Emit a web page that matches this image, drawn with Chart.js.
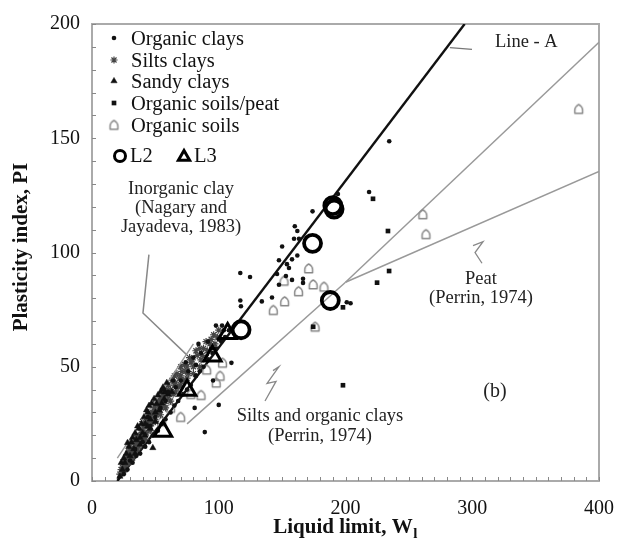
<!DOCTYPE html>
<html><head><meta charset="utf-8">
<script src="https://cdn.jsdelivr.net/npm/chart.js@4/dist/chart.umd.min.js"></script>
<style>html,body{margin:0;padding:0;background:#fff}#wrap{width:630px;height:550px}</style>
</head><body><div id="wrap"><canvas id="c" width="630" height="550"></canvas></div>
<script>
// ---- data (Liquid limit, Plasticity index) ----
const organicClays = [[25,3],[28,5],[32,8],[35,11],[38,12],[42,15],[45,17],[48,20],[52,22],[55,25],[58,27],[62,30],[65,33],[68,35],[72,38],[75,40],[78,42],[82,46],[85,48],[88,50],[92,53],[95,56],[98,58],[102,61],[105,63],[108,66],[44,28],[56,40],[64,44],[74,52],[84,60],[91.5,61],[97.8,68],[102.6,68],[82,50.8],[81,32],[100,33.3],[89,21.4],[110,51.7],[95.5,44],
  [30,9],[34,14],[40,17],[46,24],[50,28],[54,32],[58,35],[60,39],[66,41],[70,44],[76,48],[80,54],[86,56],[94,58],[100,62],[104,66],
  [117,91],[124.7,89.3],[117,79],[117.5,76.5],[134,78.6],[142,80.3],[146,90.6],[147.5,85.9],[147.5,96.6],[150,102.6],[153,89.7],[153.8,94.9],[155.4,93.2],[157.8,97],[157.8,88],[159.4,106],[160,111.5],[162,109.4],[162,98.7],[163.3,106],[166.5,88.5],[166.5,86.7],[174,118],[194,125.6],[218.6,126.5],[234.5,148.7],[201,78.2],[204,77.8]];
const siltsClays = [[22,3],[24,6],[25,4],[26,9],[27,7],[28,11],[29,8],[30,12],[31,10],[32,14],[33,12],[34,16],[35,13],[36,18],[37,15],[38,20],[39,17],[40,22],[41,19],[42,24],[43,21],[44,26],[45,23],[46,28],[47,25],[48,30],[49,27],[50,31],[51,29],[52,33],[53,30],[54,35],[55,32],[56,37],[57,34],[58,38],[60,36],[62,40],[64,38],[66,43],[68,41],[70,46],[72,44],[74,48],[76,47],[78,52],[80,50],[83,55],[86,53],[88,58],[91,57],[94,62],[97,60],[100,66],[45,30],[50,34],[55,38],[35,20],[40,26],[30,15],[60,42],[65,46],[70,50],
  [23,5],[25,8],[27,10],[29,13],[31,13],[33,17],[35,16],[37,19],[39,22],[41,24],[43,27],[45,27],[47,29],[49,32],[51,35],[53,36],[55,36],[57,39],[59,40],[61,38],[63,44],[65,42],[67,47],[69,45],[71,48],[73,51],[75,50],[77,54],[79,53],[82,57],[85,58],[87,55],[90,61],[93,60],[96,64],[99,63],[26,5],[28,8],[32,10],[36,14],[42,18],[46,22],[50,26],[54,29],[58,32],[62,35],[66,39],[70,42],[75,45],[80,47],[85,50],[90,54]];
const sandyClays = [[22,2],[24,5],[26,8],[28,16.7],[30,11],[33,14],[35,18],[38,19],[40,21],[42,25],[44,24],[46,27],[48,14.5],[50,30],[51,33.8],[52,37.6],[53,31],[55,34],[57,36],[44,30],[37,23],[31,17],[27,12],[60,38],[63,39],[57.6,38.9],
  [25,10],[29,15],[32,19],[34,21],[36,24],[39,25],[41,28],[43,31],[45,33],[47,34],[49,36],[54,39],[56,41],[59,43],[34,12],[38,16],[42,20],[46,23],[50,26],[23,8]];
const organicSoilsPeat = [[221.7,123.5],[233.5,109.4],[234.4,91.9],[224.9,86.8],[198,76],[174.5,67.5],[198,41.9]];
const organicSoils = [[171,93],[174.5,86],[183,85],[151.5,87.6],[163,83],[152,78.6],[143,74.8],[261,116.7],[263.5,108],[384,162.8],[176,67.5],[103,51.7],[101,46],[90.5,48.7],[86,37.6],[98,43],[70,28],[62,32],[55,26],[78,38]];
const L2 = [[117.6,66.2],[188,79],[174,104],[190,120.5],[191,119]];
const L3 = [[56,21.8],[75,39.7],[95,54.7],[107,64.5]];
// reference lines
const lineA = [[20,0],[294,200]];
const inorganicBound = [[20,10],[80,60]];
const siltsLine = [[75,25],[200,87]];
const peatUpper = [[200,87],[400,192]];
const peatLower = [[200,87],[400,135.5]];
// pointers
const inorganicPointer = [[44.9,99.1],[40.2,73.5],[75,55.1]];
const siltsPointer = [[142.8,48.3],[147.5,50.0],[138.1,42.7],[145.2,43.6],[136.5,35.0]];
const peatPointer = [[300.6,103],[308.5,104.7],[302.2,100],[307.7,95.3]];
const lineAPointer = [[282.4,189.7],[299.8,188.9]];
// tick labels
const xTicks = [0,100,200,300,400];
const yTicks = [0,50,100,150,200];

const toXY = a => a.map(p => ({x:p[0], y:p[1]}));
const SERIF = '"Liberation Serif", "DejaVu Serif", serif';

function houseCanvas(size, color, lw){
  const c = document.createElement('canvas'); c.width = c.height = size;
  const g = c.getContext('2d'); g.strokeStyle = color; g.lineWidth = lw; g.lineJoin='round';
  const s = size; g.beginPath();
  g.moveTo(s*0.2,s*0.82); g.lineTo(s*0.2,s*0.55);
  g.quadraticCurveTo(s*0.22,s*0.32,s*0.5,s*0.15);
  g.quadraticCurveTo(s*0.78,s*0.32,s*0.8,s*0.55);
  g.lineTo(s*0.8,s*0.82); g.closePath(); g.stroke();
  return c;
}
const houseImg = houseCanvas(13, '#888', 1.5);

function lineDs(data, color, width){
  return {type:'line', data: toXY(data), borderColor: color, borderWidth: width, pointRadius: 0, fill:false, showLine:true, tension:0};
}

const datasets = [
  {label:'L2', data: toXY(L2), pointStyle:'circle', radius:8.5, borderWidth:3.8, borderColor:'#000', backgroundColor:'rgba(0,0,0,0)'},
  {label:'L3', data: toXY(L3), pointStyle:'triangle', radius:10, borderWidth:3, borderColor:'#000', backgroundColor:'rgba(0,0,0,0)'},
  {label:'Organic soils/peat', data: toXY(organicSoilsPeat), pointStyle:'rect', radius:3.3, borderWidth:0, backgroundColor:'#111', borderColor:'#111'},
  {label:'Organic clays', data: toXY(organicClays), pointStyle:'circle', radius:2.3, borderWidth:0, backgroundColor:'#111', borderColor:'#111'},
  {label:'Sandy clays', data: toXY(sandyClays), pointStyle:'triangle', radius:3.6, borderWidth:0.5, backgroundColor:'#111', borderColor:'#111'},
  lineDs(inorganicBound, '#999', 1.4),
  {label:'Silts clays', data: toXY(siltsClays), pointStyle:'star', radius:3.6, borderWidth:1.2, backgroundColor:'#444', borderColor:'#444'},
  {label:'Organic soils', data: toXY(organicSoils), pointStyle: houseImg, radius:5},
  lineDs(lineA, '#111', 2.4),
  lineDs(siltsLine, '#999', 1.5),
  lineDs(peatUpper, '#999', 1.5),
  lineDs(peatLower, '#999', 1.5),
  lineDs(inorganicPointer, '#888', 1.5),
  lineDs(siltsPointer, '#888', 1.3),
  lineDs(peatPointer, '#888', 1.3),
  lineDs(lineAPointer, '#777', 1.3)
];

const decor = {
  id:'decor',
  beforeDatasetsDraw(chart){
    const {ctx, chartArea:a, scales:{x, y}} = chart;
    ctx.save();
    ctx.strokeStyle = '#aaa'; ctx.lineWidth = 2;
    ctx.strokeRect(a.left, a.top, a.right - a.left, a.bottom - a.top);
    ctx.strokeStyle = '#888'; ctx.lineWidth = 1;
    ctx.beginPath();
    for (let v = 0; v <= 400; v += 10){ const px = Math.round(x.getPixelForValue(v))+0.5; ctx.moveTo(px, a.bottom); ctx.lineTo(px, a.bottom-4); }
    for (let v = 0; v <= 200; v += 10){ const py = Math.round(y.getPixelForValue(v))+0.5; ctx.moveTo(a.left, py); ctx.lineTo(a.left+4, py); }
    ctx.stroke();
    ctx.restore();
  },
  afterDraw(chart){
    const {ctx} = chart;
    ctx.save();
    // axis titles
    ctx.fillStyle = '#111';
    ctx.textBaseline = 'middle';
    const t1 = 'Liquid limit, W';
    ctx.font = 'bold 21px ' + SERIF;
    const w1 = ctx.measureText(t1).width;
    ctx.font = 'bold 15px ' + SERIF;
    const w2 = ctx.measureText('l').width;
    const sx = 345 - (w1 + w2)/2;
    ctx.font = 'bold 21px ' + SERIF; ctx.textAlign = 'left';
    ctx.fillText(t1, sx, 528);
    ctx.font = 'bold 15px ' + SERIF;
    ctx.fillText('l', sx + w1 + 0.5, 534);
    ctx.save();
    ctx.translate(22, 247); ctx.rotate(-Math.PI/2);
    ctx.font = 'bold 21px ' + SERIF; ctx.textAlign = 'center';
    ctx.fillText('Plasticity index, PI', 0, 0);
    ctx.restore();

    // annotations
    ctx.fillStyle = '#222'; ctx.font = '18.5px ' + SERIF;
    ctx.textAlign = 'left'; ctx.fillText('Line - A', 495, 42);
    ctx.textAlign = 'center';
    ctx.fillText('Inorganic clay', 181, 189);
    ctx.fillText('(Nagary and', 181, 208);
    ctx.fillText('Jayadeva, 1983)', 181, 227);
    ctx.fillText('Peat', 481, 279);
    ctx.fillText('(Perrin, 1974)', 481, 298);
    ctx.fillText('Silts and organic clays', 320, 416);
    ctx.fillText('(Perrin, 1974)', 320, 436);
    ctx.font = '20px ' + SERIF;
    ctx.fillText('(b)', 495, 392);

    // legend
    const items = [
      ['Organic clays', 3, 40], ['Silts clays', 6, 62], ['Sandy clays', 4, 83],
      ['Organic soils/peat', 2, 105], ['Organic soils', 7, 127]
    ];
    ctx.font = '20.5px ' + SERIF; ctx.textAlign = 'left'; ctx.fillStyle = '#111';
    items.forEach(([label, di, yy]) => {
      const ds = chart.data.datasets[di];
      ctx.save();
      ctx.fillStyle = ds.backgroundColor || '#111';
      ctx.strokeStyle = ds.borderColor || '#111';
      ctx.lineWidth = ds.borderWidth || 0;
      Chart.helpers.drawPoint(ctx, {pointStyle: ds.pointStyle, radius: ds.radius, rotation: 0, borderWidth: ds.borderWidth || 0}, 114, yy - 2);
      ctx.restore();
      ctx.fillStyle = '#111';
      ctx.fillText(label, 131, yy);
    });
    ctx.save();
    ctx.strokeStyle = '#000'; ctx.fillStyle = 'rgba(0,0,0,0)';
    ctx.lineWidth = 3;
    Chart.helpers.drawPoint(ctx, {pointStyle:'circle', radius:5.5, rotation:0, borderWidth:3}, 120, 156);
    Chart.helpers.drawPoint(ctx, {pointStyle:'triangle', radius:6.5, rotation:0, borderWidth:3}, 184, 157);
    ctx.restore();
    ctx.fillStyle = '#111';
    ctx.fillText('L2', 130, 157);
    ctx.fillText('L3', 194, 157);
    ctx.restore();
  }
};

new Chart(document.getElementById('c'), {
  type: 'scatter',
  data: { datasets },
  options: {
    responsive: false, animation: false,
    layout: { padding: { top: 13, right: 31, left: 0, bottom: 0 } },
    plugins: { legend: { display: false }, tooltip: { enabled: false } },
    scales: {
      x: {
        type: 'linear', min: 0, max: 400,
        afterBuildTicks: s => { s.ticks = xTicks.map(v => ({value: v})); },
        afterFit: s => { s.height = 69; },
        grid: { display: false, drawTicks: false },
        border: { display: false },
        ticks: { padding: 16, color: '#111', font: { family: SERIF, size: 20 } }
      },
      y: {
        type: 'linear', min: 0, max: 200,
        afterBuildTicks: s => { s.ticks = yTicks.map(v => ({value: v})); },
        afterFit: s => { s.width = 92; },
        grid: { display: false, drawTicks: false },
        border: { display: false },
        ticks: { padding: 12, color: '#111', font: { family: SERIF, size: 20 } }
      }
    }
  },
  plugins: [decor]
});
</script></body></html>
